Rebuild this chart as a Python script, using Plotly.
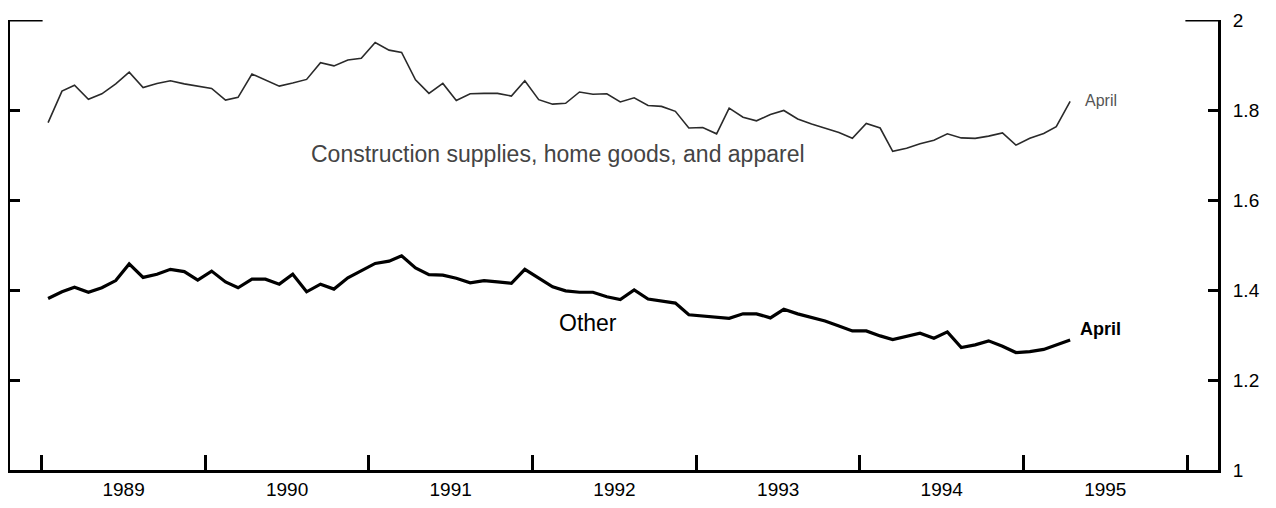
import pandas as pd
import plotly.graph_objects as go

# monthly, Jan 1989 .. Apr 1995, plotted mid-month
months = pd.date_range("1989-01-01", periods=76, freq="MS") + pd.Timedelta(days=14)

construction = [
    1.772, 1.842, 1.855, 1.824, 1.836, 1.858, 1.884, 1.850, 1.859, 1.865, 1.858, 1.853,
    1.848, 1.822, 1.828, 1.880, 1.867, 1.853, 1.860, 1.868, 1.905, 1.898, 1.911, 1.915,
    1.950, 1.933, 1.928, 1.867, 1.837, 1.859, 1.821, 1.836, 1.837, 1.837, 1.831, 1.865,
    1.823, 1.813, 1.815, 1.840, 1.835, 1.836, 1.818, 1.827, 1.810, 1.808, 1.797, 1.760,
    1.761, 1.747, 1.804, 1.784, 1.776, 1.790, 1.799, 1.780, 1.769, 1.760, 1.750, 1.737,
    1.770, 1.760, 1.708, 1.715, 1.725, 1.733, 1.747, 1.738, 1.737, 1.742, 1.749, 1.722,
    1.737, 1.748, 1.763, 1.819,
]
other = [
    1.381, 1.396, 1.406, 1.395, 1.405, 1.421, 1.458, 1.428, 1.435, 1.446, 1.441, 1.422,
    1.442, 1.418, 1.405, 1.424, 1.424, 1.413, 1.435, 1.396, 1.413, 1.402, 1.427, 1.443,
    1.459, 1.464, 1.476, 1.449, 1.434, 1.433, 1.426, 1.416, 1.421, 1.418, 1.415, 1.446,
    1.426, 1.407, 1.398, 1.395, 1.395, 1.385, 1.379, 1.400, 1.380, 1.376, 1.371, 1.345,
    1.342, 1.338, 1.337, 1.347, 1.347, 1.338, 1.357, 1.347, 1.338, 1.331, 1.320, 1.309,
    1.309, 1.298, 1.290, 1.298, 1.304, 1.293, 1.307, 1.272, 1.278, 1.287, 1.275, 1.261,
    1.263, 1.268, 1.278, 1.289,
]

y_ticks = [1, 1.2, 1.4, 1.6, 1.8, 2]
y_labels = ["1", "1.2", "1.4", "1.6", "1.8", "2"]

FONT = "Liberation Sans, Arial, sans-serif"

fig = go.Figure()
fig.add_trace(
    go.Scatter(
        x=months,
        y=construction,
        mode="lines",
        line=dict(color="#2a2a2a", width=1.6),
        showlegend=False,
    )
)
fig.add_trace(
    go.Scatter(
        x=months,
        y=other,
        mode="lines",
        line=dict(color="black", width=3.2),
        showlegend=False,
    )
)

fig.add_annotation(
    x="1992-02-27", y=1.702, text="Construction supplies, home goods, and apparel",
    showarrow=False, font=dict(family=FONT, size=23, color="#444"),
)
fig.add_annotation(
    x="1995-05-14", y=1.822, text="April", xanchor="left",
    showarrow=False, font=dict(family=FONT, size=16, color="#555"),
)
fig.add_annotation(
    x="1992-05-03", y=1.327, text="Other",
    showarrow=False, font=dict(family=FONT, size=23, color="black"),
)
fig.add_annotation(
    x="1995-05-03", y=1.313, text="<b>April</b>", xanchor="left",
    showarrow=False, font=dict(family=FONT, size=18, color="black"),
)

# longer top ticks at 2 on both sides
for x0, x1 in [(0, 0.027), (0.973, 1)]:
    fig.add_shape(
        type="line", xref="paper", yref="y", x0=x0, x1=x1, y0=2, y1=2,
        line=dict(color="black", width=3),
    )

# page body has an 8px margin, so the figure is sized to fit inside it
fig.update_layout(
    width=1268,
    height=500,
    plot_bgcolor="white",
    paper_bgcolor="white",
    margin=dict(l=2, r=58, t=12, b=38),
    font=dict(family=FONT, size=19, color="black"),
)
fig.update_xaxes(
    range=["1988-10-22", "1996-03-10"],
    automargin=False,
    showgrid=False,
    zeroline=False,
    showline=True,
    linecolor="black",
    linewidth=3,
    ticks="inside",
    ticklen=15,
    tickwidth=2.5,
    tickcolor="black",
    tick0="1989-01-01",
    dtick="M12",
    tickformat="%Y",
    ticklabelmode="period",
)
fig.update_yaxes(
    range=[1, 2],
    automargin=False,
    side="right",
    showgrid=False,
    zeroline=False,
    showline=True,
    mirror="ticks",
    linecolor="black",
    linewidth=3,
    ticks="inside",
    ticklen=10,
    tickwidth=2.5,
    tickcolor="black",
    tickvals=y_ticks,
    ticktext=y_labels,
    ticklabelstandoff=8,
)

fig.write_html("out.html")
